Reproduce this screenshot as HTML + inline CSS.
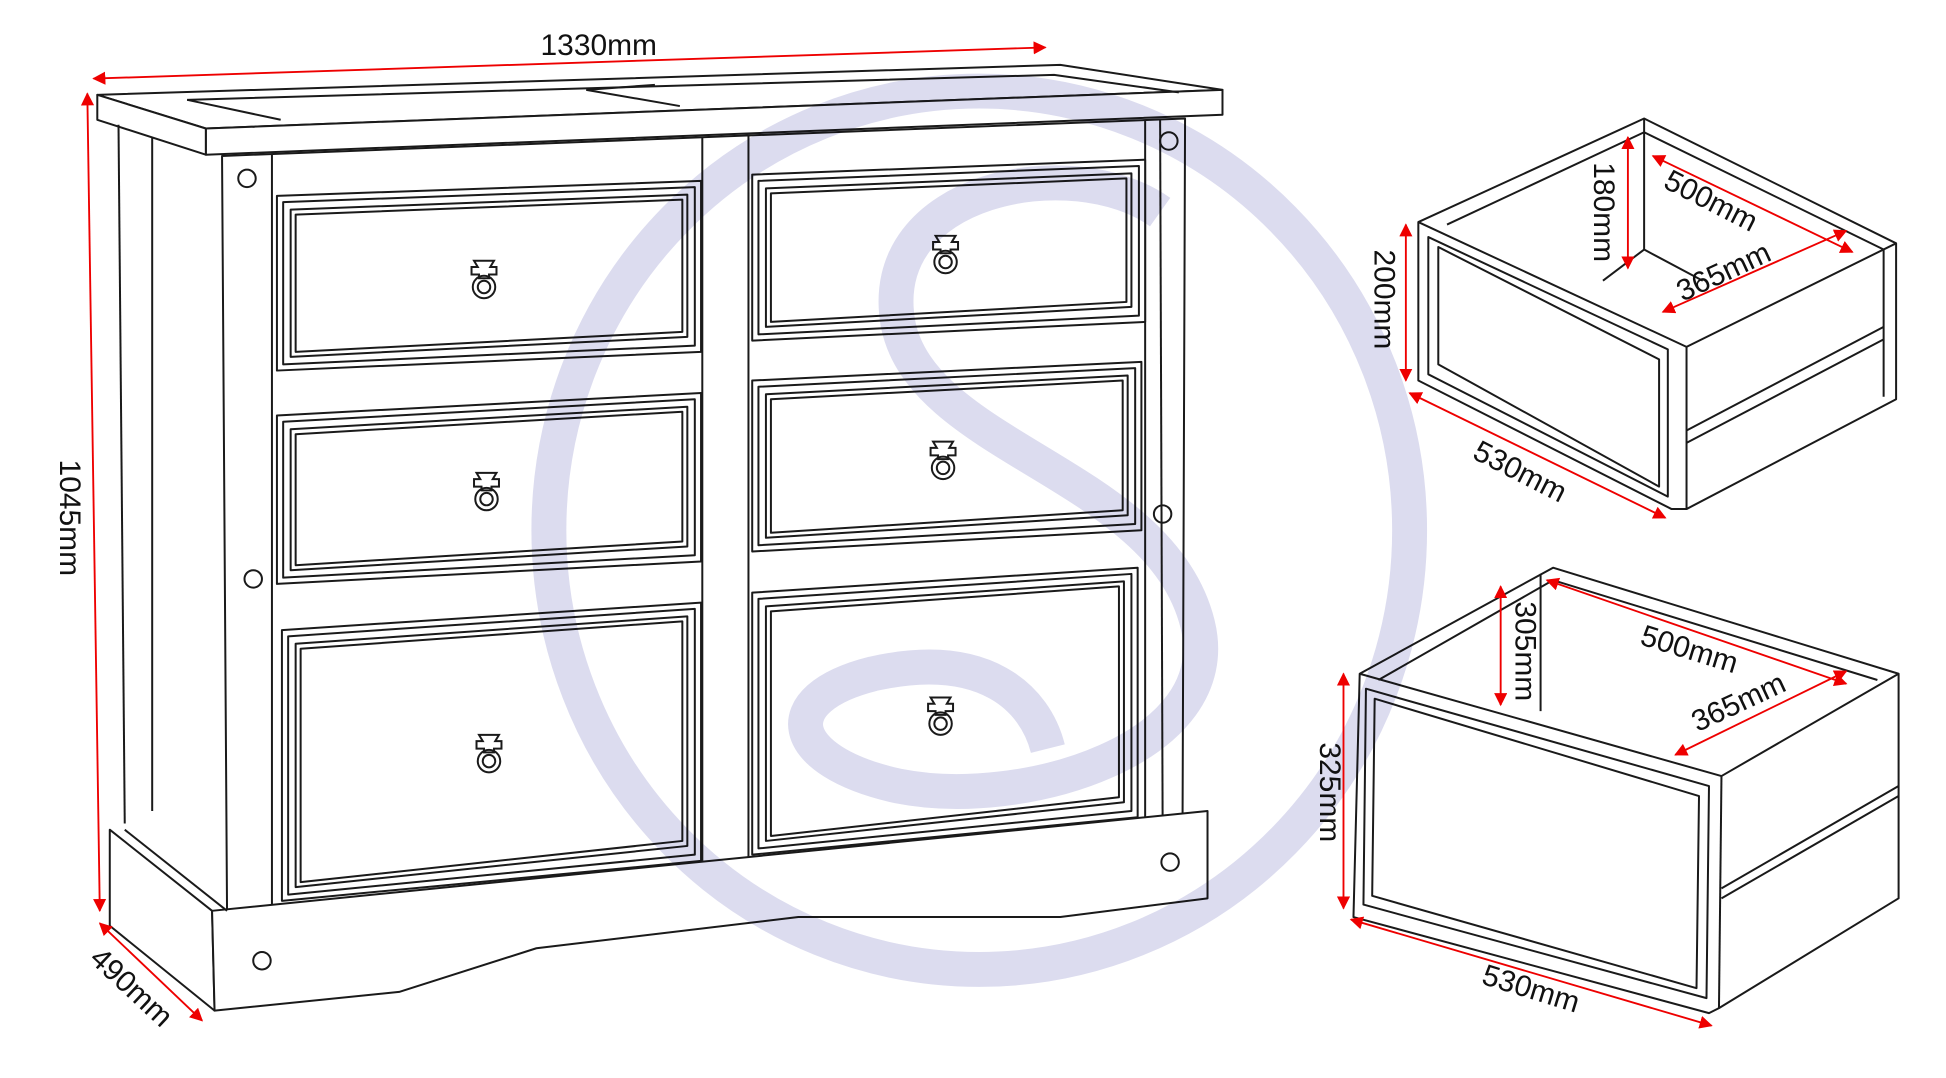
<!DOCTYPE html>
<html><head><meta charset="utf-8"><style>
html,body{margin:0;padding:0;background:#fff;width:1946px;height:1078px;overflow:hidden}
svg{display:block}
text{font-family:"Liberation Sans",sans-serif;font-size:24px;fill:#111}
.wm{mix-blend-mode:multiply}
</style></head><body>
<svg width="1946" height="1078" viewBox="0 0 1560 864" preserveAspectRatio="none" xmlns="http://www.w3.org/2000/svg">
<defs>
<marker id="a" viewBox="0 0 10 10" refX="9" refY="5" markerWidth="7" markerHeight="7" orient="auto-start-reverse"><path d="M0,0L10,5L0,10z" fill="#e00"/></marker>
<g id="h"><path d="M-8,-16 h16 l-3,5 h5 v6 h-6 l0,3 h-8 l0,-3 h-6 v-6 h5z"/><circle cx="0" cy="5" r="9"/><circle cx="0" cy="5" r="5"/></g>
</defs>
<g fill="none" stroke="#1a1a1a" stroke-width="1.6" stroke-linejoin="round">
<!-- top -->
<polygon points="78,76 850,52 980,72 165,103" fill="#fff"/>
<polygon points="165,103 980,72 980,92 165,124" fill="#fff"/>
<polygon points="78,76 165,103 165,124 78,96" fill="#fff"/>
<polyline points="150,80 845,60 945,74"/>
<polyline points="150,80 225,96"/>
<line x1="470" y1="72" x2="545" y2="85"/><line x1="525" y1="68" x2="470" y2="72"/>
<!-- left side -->
<polyline points="95,100 100,660"/>
<line x1="122" y1="110" x2="122" y2="650"/>
<!-- front frame -->
<polygon points="178,125 950,95 948,655 182,730" fill="#fff"/>
<line x1="218" y1="123" x2="218" y2="728"/>
<line x1="918" y1="97" x2="918" y2="660"/>
<line x1="563" y1="110" x2="563" y2="690"/>
<line x1="600" y1="108" x2="600" y2="688"/>
<line x1="930" y1="96" x2="932" y2="655"/>
<!-- plinth -->
<polygon points="88,665 170,730 172,810 88,742" fill="#fff"/>
<polygon points="170,730 968,650 968,720 850,735 640,735 430,760 320,795 172,810" fill="#fff"/>
<line x1="100" y1="665" x2="182" y2="730"/>
<!-- left drawers -->
<polygon points="222,157 562,145 562,282 222,297" fill="#fff"/>
<polygon points="227,162 557,150 557,277 227,292"/>
<polygon points="233,168 551,156 551,270 233,286"/>
<polygon points="237,172 547,160 547,266 237,282"/>
<polygon points="222,333 562,315 562,450 222,468" fill="#fff"/>
<polygon points="227,338 557,320 557,445 227,463"/>
<polygon points="233,344 551,326 551,438 233,457"/>
<polygon points="237,348 547,330 547,434 237,453"/>
<polygon points="226,505 562,483 562,690 226,722" fill="#fff"/>
<polygon points="231,510 557,488 557,685 231,717"/>
<polygon points="237,516 551,494 551,678 237,711"/>
<polygon points="241,520 547,498 547,674 241,707"/>
<!-- right drawers -->
<polygon points="603,140 918,128 918,258 603,273" fill="#fff"/>
<polygon points="608,145 913,133 913,253 608,268"/>
<polygon points="614,151 907,139 907,246 614,262"/>
<polygon points="618,155 903,143 903,242 618,258"/>
<polygon points="603,305 915,290 915,425 603,442" fill="#fff"/>
<polygon points="608,310 910,295 910,420 608,437"/>
<polygon points="614,316 904,301 904,413 614,431"/>
<polygon points="618,320 900,305 900,409 618,427"/>
<polygon points="603,475 912,455 912,655 603,685" fill="#fff"/>
<polygon points="608,480 907,460 907,650 608,680"/>
<polygon points="614,486 901,466 901,643 614,674"/>
<polygon points="618,490 897,470 897,639 618,670"/>
<!-- dots -->
<circle cx="198" cy="143" r="7"/><circle cx="937" cy="113" r="7"/>
<circle cx="203" cy="464" r="7"/><circle cx="932" cy="412" r="7"/>
<circle cx="938" cy="691" r="7"/><circle cx="210" cy="770" r="7"/>
</g>
<g fill="none" stroke="#1a1a1a" stroke-width="1.6">
<use href="#h" x="388" y="225"/><use href="#h" x="390" y="395"/><use href="#h" x="392" y="605"/>
<use href="#h" x="758" y="205"/><use href="#h" x="756" y="370"/><use href="#h" x="754" y="575"/>
<use href="#h" x="1241" y="290"/><use href="#h" x="1222" y="675"/>
</g>
<!-- drawer 1 -->
<g fill="none" stroke="#1a1a1a" stroke-width="1.6" stroke-linejoin="round">
<polygon points="1137,178 1318,95 1520,195 1520,320 1352,408 1340,408 1137,305" fill="#fff"/>
<polyline points="1137,178 1352,278 1520,195"/>
<line x1="1352" y1="278" x2="1352" y2="408"/>
<line x1="1318" y1="95" x2="1318" y2="200"/>
<polyline points="1160,180 1318,106 1510,200"/>
<polyline points="1285,225 1318,200 1365,225"/>
<polygon points="1145,190 1337,280 1337,398 1145,300"/>
<polygon points="1153,198 1330,288 1330,390 1153,292"/>
<line x1="1352" y1="345" x2="1510" y2="262"/><line x1="1352" y1="355" x2="1510" y2="272"/>
<line x1="1510" y1="200" x2="1510" y2="318"/>
</g>
<!-- drawer 2 -->
<g fill="none" stroke="#1a1a1a" stroke-width="1.6" stroke-linejoin="round">
<polygon points="1090,540 1245,455 1522,540 1522,720 1378,808 1370,812 1085,735" fill="#fff"/>
<polyline points="1090,540 1380,622 1522,540"/>
<line x1="1380" y1="622" x2="1378" y2="808"/>
<line x1="1235" y1="460" x2="1235" y2="570"/>
<polyline points="1105,545 1245,465 1505,545"/>
<polygon points="1095,552 1370,630 1368,800 1093,725"/>
<polygon points="1102,560 1362,638 1360,792 1100,718"/>
<line x1="1380" y1="712" x2="1522" y2="630"/><line x1="1380" y1="720" x2="1522" y2="638"/>
</g>
<!-- watermark (on top, multiply) -->
<g class="wm" fill="none" stroke="#dcdcef" stroke-width="28">
<ellipse cx="785" cy="425" rx="345" ry="352"/>
<path d="M930,170 C860,120 700,150 720,260 C740,360 930,380 960,500 C985,600 820,650 720,630 C630,610 620,560 700,540 C790,520 830,560 840,600"/>
</g>
<!-- dimensions -->
<g stroke="#e00" stroke-width="1.5" fill="none">
<line x1="75" y1="63" x2="838" y2="38" marker-start="url(#a)" marker-end="url(#a)"/>
<line x1="70" y1="75" x2="80" y2="730" marker-start="url(#a)" marker-end="url(#a)"/>
<line x1="80" y1="740" x2="162" y2="818" marker-start="url(#a)" marker-end="url(#a)"/>
<line x1="1127" y1="180" x2="1127" y2="305" marker-start="url(#a)" marker-end="url(#a)"/>
<line x1="1130" y1="315" x2="1335" y2="415" marker-start="url(#a)" marker-end="url(#a)"/>
<line x1="1305" y1="110" x2="1305" y2="215" marker-start="url(#a)" marker-end="url(#a)"/>
<line x1="1325" y1="125" x2="1485" y2="202" marker-start="url(#a)" marker-end="url(#a)"/>
<line x1="1333" y1="250" x2="1480" y2="185" marker-start="url(#a)" marker-end="url(#a)"/>
<line x1="1077" y1="540" x2="1077" y2="728" marker-start="url(#a)" marker-end="url(#a)"/>
<line x1="1083" y1="737" x2="1372" y2="822" marker-start="url(#a)" marker-end="url(#a)"/>
<line x1="1203" y1="470" x2="1203" y2="565" marker-start="url(#a)" marker-end="url(#a)"/>
<line x1="1240" y1="465" x2="1480" y2="548" marker-start="url(#a)" marker-end="url(#a)"/>
<line x1="1343" y1="605" x2="1480" y2="538" marker-start="url(#a)" marker-end="url(#a)"/>
</g>
<text x="480" y="44" text-anchor="middle">1330mm</text>
<text transform="translate(48,415) rotate(90)" text-anchor="middle">1045mm</text>
<text transform="translate(100,797) rotate(43)" text-anchor="middle">490mm</text>
<text transform="translate(1102,240) rotate(90)" text-anchor="middle">200mm</text>
<text transform="translate(1215,385) rotate(27)" text-anchor="middle">530mm</text>
<text transform="translate(1278,170) rotate(90)" text-anchor="middle">180mm</text>
<text transform="translate(1368,168) rotate(27)" text-anchor="middle">500mm</text>
<text transform="translate(1385,225) rotate(-25)" text-anchor="middle">365mm</text>
<text transform="translate(1058,635) rotate(90)" text-anchor="middle">325mm</text>
<text transform="translate(1225,800) rotate(17)" text-anchor="middle">530mm</text>
<text transform="translate(1215,522) rotate(90)" text-anchor="middle">305mm</text>
<text transform="translate(1352,528) rotate(17)" text-anchor="middle">500mm</text>
<text transform="translate(1397,570) rotate(-25)" text-anchor="middle">365mm</text>
</svg>
</body></html>
